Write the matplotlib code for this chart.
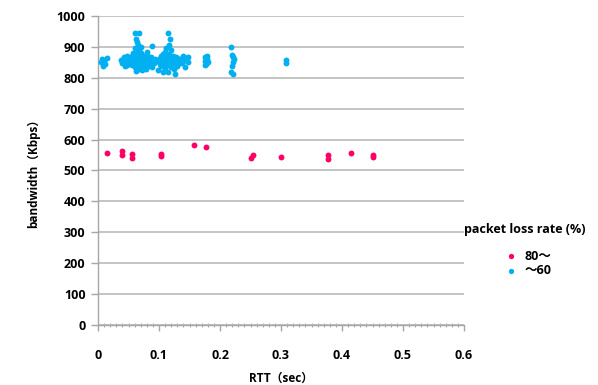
import matplotlib
matplotlib.use("Agg")
import matplotlib.pyplot as plt
from matplotlib.ticker import MultipleLocator

plt.rcParams['font.family'] = ['Open Sans', 'Noto Sans CJK JP', 'DejaVu Sans']
plt.rcParams['font.weight'] = 'bold'

# packet loss rate 80% and above
rtt_high = [0.015, 0.039, 0.039, 0.055, 0.055, 0.104, 0.104, 0.158, 0.177,
            0.251, 0.254, 0.300, 0.377, 0.377, 0.415, 0.451, 0.451]
bw_high = [558, 562, 549, 553, 539, 553, 546, 584, 577,
           542, 550, 544, 551, 538, 558, 551, 544]

# packet loss rate up to 60%
rtt_low = [
    0.005, 0.008, 0.007, 0.012, 0.015, 0.010,
    0.038, 0.040, 0.042, 0.045, 0.048, 0.047, 0.050, 0.044,
    0.060, 0.068, 0.062, 0.064, 0.066, 0.061, 0.070, 0.058, 0.089,
    0.052, 0.054, 0.055, 0.056, 0.057, 0.058, 0.059, 0.060, 0.061, 0.062,
    0.063, 0.064, 0.065, 0.066, 0.067, 0.068, 0.069, 0.070, 0.071, 0.072,
    0.073, 0.074, 0.075, 0.076, 0.077, 0.078, 0.079, 0.080, 0.081, 0.082,
    0.083, 0.084, 0.085, 0.086, 0.087, 0.088, 0.090, 0.091, 0.093, 0.065,
    0.062, 0.072, 0.080, 0.058, 0.067,
    0.115, 0.118, 0.117, 0.112, 0.120,
    0.096, 0.098, 0.100, 0.101, 0.103, 0.104, 0.105, 0.106, 0.107, 0.108,
    0.109, 0.110, 0.111, 0.112, 0.113, 0.114, 0.115, 0.116, 0.117, 0.118,
    0.119, 0.120, 0.121, 0.122, 0.123, 0.124, 0.125, 0.126, 0.127, 0.128,
    0.129, 0.130, 0.131, 0.132, 0.110, 0.106,
    0.135, 0.138, 0.140, 0.142, 0.143, 0.145, 0.147, 0.148,
    0.175, 0.176, 0.177, 0.178, 0.179, 0.180, 0.177, 0.176,
    0.218, 0.220, 0.222, 0.223, 0.221, 0.220, 0.218, 0.221,
    0.309, 0.309,
]
bw_low = [
    850, 838, 862, 845, 865, 855,
    858, 848, 866, 852, 842, 870, 860, 838,
    945, 945, 925, 915, 905, 895, 900, 880, 902,
    850, 862, 840, 872, 855, 845, 866, 835, 858, 848,
    876, 840, 862, 852, 830, 868, 845, 858, 880, 838,
    865, 850, 842, 870, 856, 828, 862, 848, 872, 838,
    858, 866, 845, 852, 868, 835, 858, 848, 862, 885,
    822, 825, 885, 875, 890,
    945, 925, 905, 895, 890,
    855, 826, 862, 845, 870, 838, 858, 850, 876, 842,
    865, 832, 855, 870, 848, 862, 820, 840, 878, 852,
    866, 836, 858, 845, 872, 828, 860, 848, 811, 866,
    838, 855, 845, 860, 885, 818,
    862, 848, 870, 858, 836, 865, 852, 868,
    868, 855, 845, 870, 860, 850, 862, 842,
    899, 875, 868, 861, 850, 839, 820, 811,
    858, 847,
]

x_ticks = [0, 0.1, 0.2, 0.3, 0.4, 0.5, 0.6]
x_tick_labels = ['0', '0.1', '0.2', '0.3', '0.4', '0.5', '0.6']
y_ticks = list(range(0, 1001, 100))

red = '#FF0066'
blue = '#00B0F0'
grid_grey = '#BFBFBF'
axis_grey = '#A6A6A6'

fig = plt.figure(figsize=(5.98, 3.85), dpi=100)
ax = fig.add_axes([98 / 598, 1 - 325 / 385, 366 / 598, 309 / 385])

ax.scatter(rtt_high, bw_high, s=18, color=red, linewidths=0, label='80〜', zorder=3)
ax.scatter(rtt_low, bw_low, s=18, color=blue, linewidths=0, label='〜60', zorder=3)

ax.set_xlim(0, 0.6)
ax.set_ylim(0, 1000)
ax.set_xticks(x_ticks)
ax.set_xticklabels(x_tick_labels)
ax.set_yticks(y_ticks)
ax.xaxis.set_minor_locator(MultipleLocator(0.01))

ax.yaxis.grid(True, color=grid_grey, linewidth=1.3)
ax.set_axisbelow(True)

for side in ('top', 'right'):
    ax.spines[side].set_visible(False)
for side in ('left', 'bottom'):
    ax.spines[side].set_color(axis_grey)
    ax.spines[side].set_linewidth(1.0)

ax.tick_params(axis='x', which='major', direction='out', length=4, width=1.0,
               color=axis_grey, pad=13, labelsize=9)
ax.tick_params(axis='x', which='minor', direction='inout', length=3, width=0.8,
               color=axis_grey)
ax.tick_params(axis='y', which='major', direction='out', length=5, width=1.0,
               color=axis_grey, pad=4, labelsize=9)

for lbl in ax.get_xticklabels() + ax.get_yticklabels():
    lbl.set_fontweight('bold')

ax.set_xlabel('RTT（sec）', fontsize=8.5, fontweight='bold', labelpad=7)
ax.set_ylabel('bandwidth（Kbps）', fontsize=8.5, fontweight='bold', labelpad=12)

leg = fig.legend(loc='center', bbox_to_anchor=(525 / 598, 1 - 250 / 385),
                 frameon=False, title='packet loss rate (%)',
                 prop={'weight': 'bold', 'size': 9},
                 handletextpad=0.1, labelspacing=0.15, markerscale=0.9,
                 borderpad=0.2)
leg.get_title().set_fontweight('bold')
leg.get_title().set_fontsize(9)
leg._legend_box.sep = 10

fig.savefig('out.png', dpi=100)
